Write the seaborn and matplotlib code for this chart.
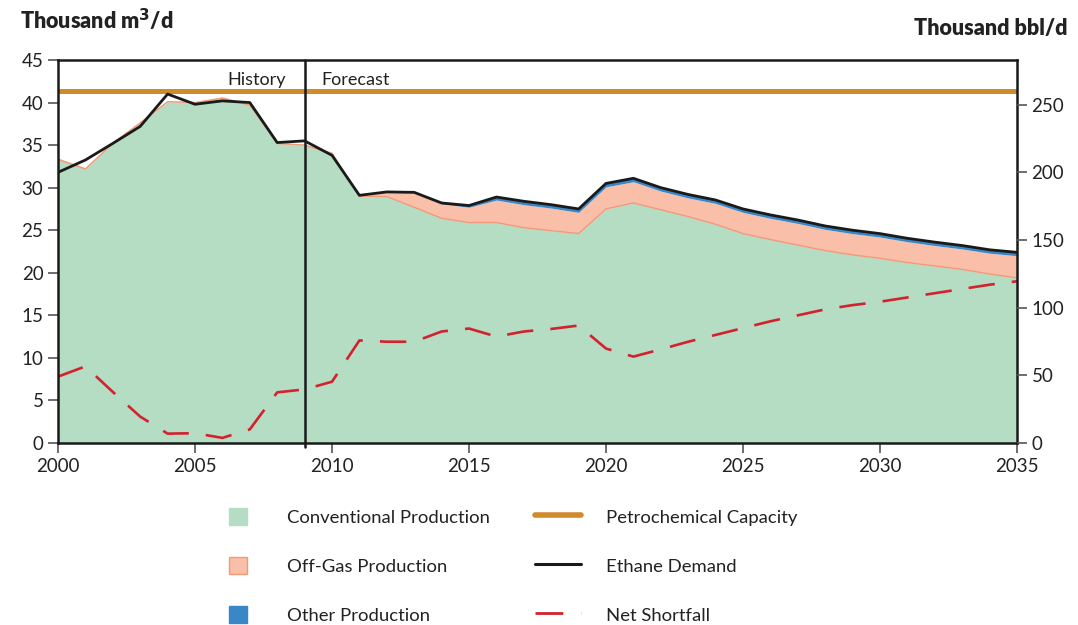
import numpy as np
import pandas as pd
import matplotlib
matplotlib.use('Agg')
import matplotlib.pyplot as plt
import matplotlib.patches as mpatches
from matplotlib.lines import Line2D
import seaborn as sns

sns.set_style('white')
plt.rcParams['font.family'] = ['Lato', 'DejaVu Sans']

years = list(range(2000, 2036))
conventional = [33.3, 32.2, 35.2, 37.6, 40.1, 40.0, 40.5, 39.7, 35.2, 35.0, 34.0,
                29.0, 28.95, 27.7, 26.4, 25.9, 25.9, 25.3, 24.95, 24.6, 27.5,
                28.2, 27.4, 26.6, 25.7, 24.6, 23.9, 23.25, 22.6, 22.1, 21.7,
                21.2, 20.8, 20.4, 19.85, 19.4]
offgas = [0.2, 0.15, 0.2, 0.2, 0.1, 0.1, 0.2, 0.1, 0.1, 0.1, 0.2,
          0.1, 0.55, 1.75, 1.7, 1.8, 2.65, 2.7, 2.65, 2.5, 2.6,
          2.5, 2.2, 2.2, 2.45, 2.5, 2.5, 2.55, 2.5, 2.5, 2.5,
          2.45, 2.4, 2.4, 2.45, 2.6]
other = [0.0] * 14 + [0.1, 0.2, 0.35] + [0.4] * 19
demand = [31.8, 33.25, 35.2, 37.2, 41.0, 39.8, 40.2, 40.0, 35.3, 35.5, 33.8,
          29.1, 29.5, 29.45, 28.2, 27.9, 28.9, 28.4, 28.0, 27.5, 30.5,
          31.1, 30.0, 29.2, 28.55, 27.5, 26.8, 26.2, 25.5, 25.0, 24.6,
          24.05, 23.6, 23.2, 22.7, 22.4]
shortfall = [7.8, 9.0, 6.0, 3.1, 1.1, 1.15, 0.6, 1.6, 5.95, 6.3, 7.2,
             12.05, 11.9, 11.9, 13.1, 13.45, 12.5, 13.1, 13.4, 13.8, 11.1,
             10.15, 11.0, 11.9, 12.7, 13.5, 14.3, 15.0, 15.7, 16.2, 16.6,
             17.1, 17.6, 18.1, 18.6, 19.0]
capacity = [41.3] * 36

m3_to_bbl = 6.29  # thousand bbl per thousand m3

df = pd.DataFrame({'year': years, 'conventional': conventional, 'offgas': offgas,
                   'other': other, 'demand': demand, 'shortfall': shortfall,
                   'capacity': capacity})

c_green = '#B4DDC3'
c_salmon = '#F9BFA8'
c_salmon_edge = '#F2997A'
c_blue = '#3A87C8'
c_red = '#D3222E'
c_orange = '#D08B2C'

fig = plt.figure(figsize=(10.78, 6.25), dpi=100)
ax = fig.add_axes([58 / 1078, 1 - 443 / 625, (1017 - 58) / 1078, (443 - 60) / 625])

ax.stackplot(df['year'], df['conventional'], df['offgas'], df['other'],
             colors=[c_green, c_salmon, c_blue], linewidth=0)
ax.plot(df['year'], df['conventional'], color=c_salmon_edge, lw=1.0)

sns.lineplot(data=df, x='year', y='capacity', ax=ax, color=c_orange, lw=3.6)
sns.lineplot(data=df, x='year', y='demand', ax=ax, color='#1a1a1a', lw=2.0)
sl = sns.lineplot(data=df, x='year', y='shortfall', ax=ax, color=c_red, lw=1.9)
sl.lines[-1].set_dashes((10, 6.5))

ax.axvline(2009, color='#1a1a1a', lw=1.8, ymin=-0.01, clip_on=False)
ax.text(2009 - 0.7, 42.6, 'History', ha='right', va='center', fontsize=13, color='#222222')
ax.text(2009 + 0.6, 42.6, 'Forecast', ha='left', va='center', fontsize=13, color='#222222')

ax.set_xlim(2000, 2035)
ax.set_ylim(0, 45)
ax.set_xticks(range(2000, 2036, 5))
ax.set_yticks(range(0, 46, 5))
ax.set_xlabel('')
ax.set_ylabel('')
for s in ax.spines.values():
    s.set_visible(True)
    s.set_color('#1a1a1a')
    s.set_linewidth(1.8)
ax.tick_params(axis='both', direction='out', length=7, width=1.2, color='#555555',
               labelsize=13.5, labelcolor='#222222', bottom=True, left=True)

ax2 = ax.twinx()
ax2.set_ylim(0, 45 * m3_to_bbl)
ax2.set_yticks(range(0, 251, 50))
for s in ax2.spines.values():
    s.set_visible(False)
ax2.tick_params(axis='y', direction='out', length=7, width=1.2, color='#555555',
                labelsize=13.5, labelcolor='#222222', right=True)

fig.text(20 / 1078, 1 - 20 / 625, 'Thousand m$^\\mathbf{3}$/d', fontsize=15.5,
         fontweight='heavy', ha='left', va='center', color='#222222')
fig.text(1068 / 1078, 1 - 29 / 625, 'Thousand bbl/d', fontsize=15.5,
         fontweight='heavy', ha='right', va='center', color='#222222')

h1 = [mpatches.Patch(facecolor=c_green, edgecolor=c_green),
      mpatches.Patch(facecolor=c_salmon, edgecolor=c_salmon_edge),
      mpatches.Patch(facecolor=c_blue, edgecolor=c_blue)]
l1 = ['Conventional Production', 'Off-Gas Production', 'Other Production']
leg1 = fig.legend(h1, l1, loc='upper left', bbox_to_anchor=(229 / 1078, 1 - 508 / 625),
                  frameon=False, fontsize=13.3, handlelength=0.95, handleheight=1.05,
                  handletextpad=2.2, labelspacing=1.68, borderpad=0, borderaxespad=0,
                  labelcolor='#222222')

h2 = [Line2D([], [], color=c_orange, lw=4),
      Line2D([], [], color='#1a1a1a', lw=2.2),
      Line2D([], [], color=c_red, lw=2, dashes=(10, 6.5))]
l2 = ['Petrochemical Capacity', 'Ethane Demand', 'Net Shortfall']
leg2 = fig.legend(h2, l2, loc='upper left', bbox_to_anchor=(535 / 1078, 1 - 508 / 625),
                  frameon=False, fontsize=13.3, handlelength=2.5, handleheight=1.05,
                  handletextpad=1.35, labelspacing=1.68, borderpad=0, borderaxespad=0,
                  labelcolor='#222222')

fig.savefig('out.png', dpi=100)
